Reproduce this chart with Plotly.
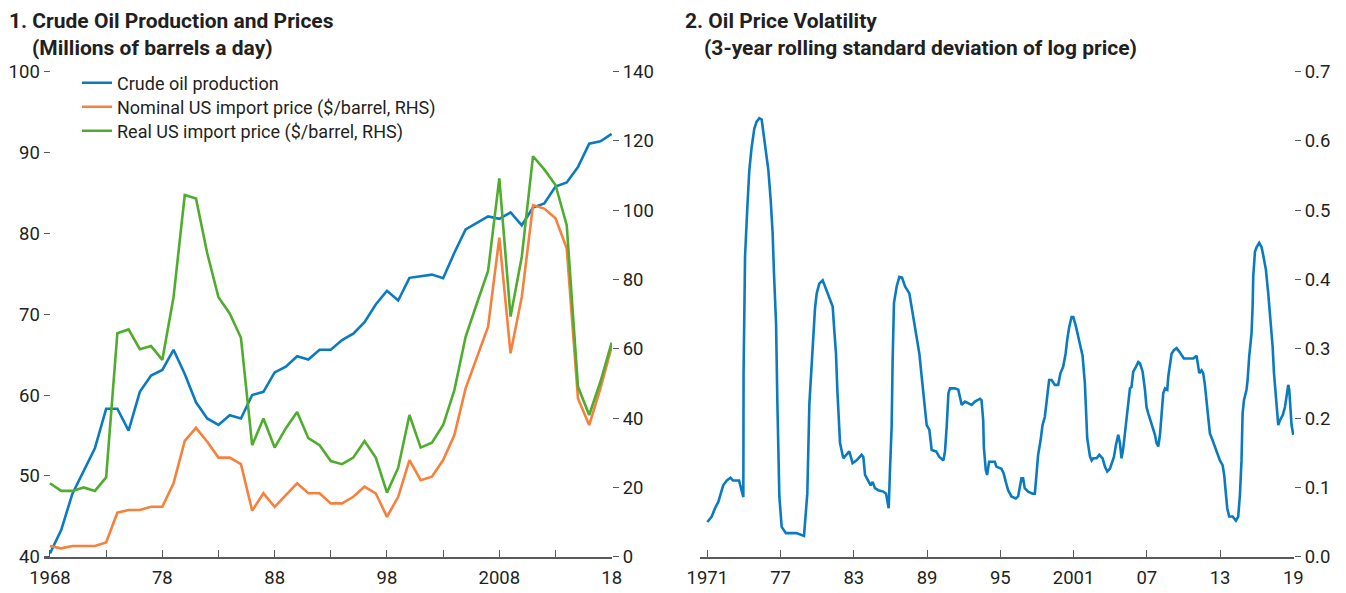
import plotly.graph_objects as go

# ---------------- Data ----------------
years = list(range(1968, 2019))
production = [40.4, 43.3, 47.8, 50.7, 53.4, 58.3, 58.3, 55.6, 60.4, 62.4,
              63.1, 65.6, 62.6, 59.1, 57.1, 56.3, 57.5, 57.1, 60.0, 60.4,
              62.8, 63.5, 64.8, 64.4, 65.6, 65.6, 66.8, 67.6, 69.0, 71.2,
              72.9, 71.7, 74.5, 74.7, 74.9, 74.45, 77.6, 80.5, 81.3, 82.1,
              81.8, 82.6, 81.0, 83.2, 83.7, 85.8, 86.3, 88.2, 91.1, 91.4,
              92.3]
nominal_price = [3.1, 2.4, 3.1, 3.1, 3.1, 4.1, 12.7, 13.5, 13.5, 14.4,
                 14.4, 21.2, 33.4, 37.2, 33.2, 28.6, 28.6, 26.7, 13.3, 18.3,
                 14.4, 17.8, 21.2, 18.3, 18.3, 15.4, 15.4, 17.3, 20.2, 18.3,
                 11.5, 17.3, 27.9, 22.1, 23.1, 27.9, 35.1, 48.6, 57.7, 66.4,
                 92.1, 58.7, 75.0, 101.5, 100.5, 97.7, 89.0, 45.7, 38.0, 48.6,
                 60.6]
real_price = [21.2, 19.0, 19.0, 20.0, 19.0, 22.9, 64.5, 65.6, 59.9, 60.8,
              56.8, 74.9, 104.4, 103.4, 87.6, 74.9, 70.2, 63.2, 32.2, 39.9,
              31.5, 37.1, 41.8, 34.2, 32.2, 27.6, 26.7, 28.6, 33.4, 28.6,
              18.5, 25.7, 40.9, 31.5, 32.9, 38.0, 48.1, 63.5, 73.1, 82.5,
              109.2, 69.3, 86.6, 115.6, 111.8, 107.3, 95.7, 49.1, 40.9, 50.5,
              61.8]

left_tickvals = [1968, 1973, 1978, 1983, 1988, 1993, 1998, 2003, 2008, 2013, 2018]
left_ticktext = ["1968", "", "78", "", "88", "", "98", "", "2008", "", "18"]

vol_time = [1971.0, 1971.36, 1971.63, 1971.9, 1972.1, 1972.3, 1972.6, 1972.9, 1973.1, 1973.6,
            1973.8, 1973.95, 1973.97, 1974.09, 1974.28, 1974.44, 1974.63, 1974.85, 1975.04, 1975.26,
            1975.45, 1975.59, 1975.81, 1976.0, 1976.19, 1976.35, 1976.46, 1976.63, 1976.74, 1976.9,
            1977.09, 1977.44, 1977.83, 1978.3, 1978.92, 1979.08, 1979.19, 1979.36, 1979.5, 1979.68,
            1979.82, 1979.96, 1980.17, 1980.45, 1980.72, 1981.05, 1981.27, 1981.4, 1981.54, 1981.65,
            1981.87, 1982.14, 1982.63, 1982.9, 1983.23, 1983.64, 1983.78, 1983.92, 1984.19, 1984.38,
            1984.54, 1984.73, 1985.01, 1985.42, 1985.64, 1985.86, 1985.96, 1986.1, 1986.18, 1986.29,
            1986.51, 1986.73, 1986.95, 1987.2, 1987.55, 1987.73, 1987.93, 1988.15, 1988.37, 1988.56,
            1988.7, 1988.83, 1988.97, 1989.19, 1989.38, 1989.74, 1990.01, 1990.34, 1990.47, 1990.61,
            1990.75, 1990.88, 1991.29, 1991.56, 1991.84, 1992.1, 1992.38, 1992.65, 1992.92, 1993.11,
            1993.33, 1993.46, 1993.6, 1993.65, 1993.81, 1993.92, 1994.08, 1994.55, 1994.68, 1995.09,
            1995.28, 1995.45, 1995.64, 1995.91, 1996.27, 1996.46, 1996.59, 1996.73, 1996.87, 1997.0,
            1997.28, 1997.64, 1997.83, 1997.96, 1998.1, 1998.3, 1998.46, 1998.65, 1998.79, 1999.0,
            1999.2, 1999.47, 1999.74, 1999.93, 2000.15, 2000.35, 2000.48, 2000.65, 2000.84, 2000.98,
            2001.2, 2001.39, 2001.6, 2001.74, 2001.93, 2002.01, 2002.12, 2002.34, 2002.48, 2002.62,
            2002.89, 2003.11, 2003.38, 2003.57, 2003.76, 2003.98, 2004.12, 2004.31, 2004.47, 2004.66,
            2004.8, 2004.93, 2005.07, 2005.21, 2005.34, 2005.48, 2005.62, 2005.75, 2005.89, 2006.11,
            2006.3, 2006.44, 2006.66, 2006.85, 2006.98, 2007.12, 2007.31, 2007.48, 2007.67, 2007.8,
            2007.94, 2008.08, 2008.21, 2008.35, 2008.49, 2008.68, 2008.76, 2008.9, 2009.03, 2009.22,
            2009.44, 2009.66, 2009.85, 2010.04, 2010.4, 2010.81, 2011.08, 2011.21, 2011.3, 2011.49,
            2011.62, 2011.76, 2011.9, 2012.03, 2012.17, 2012.39, 2012.58, 2012.77, 2012.99, 2013.21,
            2013.34, 2013.48, 2013.59, 2013.75, 2014.03, 2014.3, 2014.49, 2014.63, 2014.76, 2014.85,
            2014.96, 2015.17, 2015.26, 2015.39, 2015.5, 2015.58, 2015.67, 2015.72, 2015.86, 2016.0,
            2016.21, 2016.4, 2016.54, 2016.76, 2016.95, 2017.14, 2017.31, 2017.42, 2017.58, 2017.77,
            2017.91, 2018.13, 2018.32, 2018.45, 2018.59, 2018.67, 2018.78, 2018.86, 2019.0]
vol_value = [0.050, 0.058, 0.070, 0.079, 0.091, 0.103, 0.110, 0.114, 0.110, 0.110,
             0.096, 0.086, 0.265, 0.433, 0.505, 0.558, 0.591, 0.618, 0.628, 0.633,
             0.631, 0.613, 0.589, 0.558, 0.515, 0.467, 0.409, 0.337, 0.221, 0.087,
             0.043, 0.034, 0.034, 0.034, 0.030, 0.067, 0.091, 0.221, 0.267, 0.315,
             0.358, 0.380, 0.394, 0.399, 0.387, 0.373, 0.361, 0.327, 0.293, 0.241,
             0.164, 0.142, 0.152, 0.135, 0.139, 0.147, 0.144, 0.118, 0.108, 0.103,
             0.108, 0.099, 0.096, 0.094, 0.091, 0.070, 0.123, 0.188, 0.284, 0.366,
             0.390, 0.404, 0.403, 0.390, 0.380, 0.361, 0.337, 0.313, 0.293, 0.260,
             0.236, 0.207, 0.190, 0.183, 0.154, 0.152, 0.144, 0.139, 0.152, 0.188,
             0.236, 0.243, 0.243, 0.241, 0.219, 0.224, 0.221, 0.219, 0.224, 0.226,
             0.228, 0.226, 0.197, 0.159, 0.125, 0.118, 0.137, 0.137, 0.130, 0.127,
             0.120, 0.108, 0.096, 0.087, 0.084, 0.087, 0.099, 0.113, 0.113, 0.099,
             0.094, 0.091, 0.091, 0.123, 0.147, 0.168, 0.190, 0.202, 0.226, 0.255,
             0.255, 0.248, 0.248, 0.265, 0.274, 0.293, 0.313, 0.332, 0.346, 0.346,
             0.332, 0.317, 0.305, 0.290, 0.250, 0.204, 0.171, 0.145, 0.139, 0.142,
             0.142, 0.147, 0.142, 0.130, 0.123, 0.127, 0.135, 0.144, 0.161, 0.176,
             0.164, 0.142, 0.156, 0.178, 0.195, 0.221, 0.243, 0.245, 0.267, 0.274,
             0.281, 0.279, 0.267, 0.241, 0.216, 0.207, 0.197, 0.185, 0.176, 0.164,
             0.159, 0.176, 0.207, 0.236, 0.243, 0.241, 0.260, 0.274, 0.293, 0.298,
             0.301, 0.296, 0.291, 0.286, 0.286, 0.286, 0.290, 0.277, 0.265, 0.269,
             0.265, 0.248, 0.226, 0.202, 0.178, 0.168, 0.159, 0.149, 0.139, 0.132,
             0.118, 0.091, 0.070, 0.058, 0.058, 0.052, 0.058, 0.089, 0.139, 0.207,
             0.226, 0.241, 0.255, 0.289, 0.308, 0.322, 0.361, 0.404, 0.440, 0.447,
             0.453, 0.447, 0.435, 0.414, 0.380, 0.342, 0.303, 0.265, 0.226, 0.190,
             0.197, 0.204, 0.216, 0.231, 0.248, 0.241, 0.216, 0.190, 0.176]

right_tickvals = [1971, 1977, 1983, 1989, 1995, 2001, 2007, 2013, 2019]
right_ticktext = ["1971", "77", "83", "89", "95", "2001", "07", "13", "19"]

# ---------------- Styling ----------------
W, H = 1346, 593
OFF = 8  # page margin of the html body
FONT = "Roboto, Liberation Sans, sans-serif"
TXT = "#231f20"
AX = "#58595b"
BLUE = "#0b7bc1"
ORANGE = "#f7803c"
GREEN = "#4fad2e"


def px(x):
    return (x - OFF) / W


def py(y):
    return 1 - (y - OFF) / H


ydom = [py(556.7), py(71.7)]

fig = go.Figure()
fig.add_trace(go.Scatter(x=years, y=production, mode="lines", name="Crude oil production",
                         line=dict(color=BLUE, width=2.6), xaxis="x", yaxis="y",
                         legend="legend"))
fig.add_trace(go.Scatter(x=years, y=nominal_price, mode="lines",
                         name="Nominal US import price ($/barrel, RHS)",
                         line=dict(color=ORANGE, width=2.6), xaxis="x", yaxis="y2",
                         legend="legend2"))
fig.add_trace(go.Scatter(x=years, y=real_price, mode="lines",
                         name="Real US import price ($/barrel, RHS)",
                         line=dict(color=GREEN, width=2.6), xaxis="x", yaxis="y2",
                         legend="legend3"))
fig.add_trace(go.Scatter(x=vol_time, y=vol_value, mode="lines", showlegend=False,
                         line=dict(color=BLUE, width=2.6), xaxis="x2", yaxis="y3"))

tickfont = dict(family=FONT, size=18.5, color=TXT)
common_x = dict(ticks="inside", ticklen=7, tickwidth=1.3, tickcolor=AX, showline=True,
                linecolor=AX, linewidth=1.5, showgrid=False, zeroline=False,
                tickfont=tickfont, fixedrange=True, automargin=False, ticklabelstandoff=3)
common_y = dict(ticks="outside", ticklen=6, tickwidth=1.3, tickcolor=AX, showline=False,
                showgrid=False, zeroline=False, tickfont=tickfont, fixedrange=True,
                automargin=False)

legend_style = dict(xanchor="left", yanchor="middle", bgcolor="rgba(0,0,0,0)",
                    font=dict(family=FONT, size=18, color=TXT), itemwidth=30)

fig.update_layout(
    template="none",
    width=W, height=H,
    margin=dict(l=0, r=0, t=0, b=0, pad=0, autoexpand=False),
    paper_bgcolor="white", plot_bgcolor="white",
    font=dict(family=FONT, color=TXT),
    xaxis=dict(domain=[px(44), px(612)], range=[1967.47, 2018.03], anchor="y",
               tickmode="array", tickvals=left_tickvals, ticktext=left_ticktext, **common_x),
    yaxis=dict(domain=ydom, range=[40, 100], tickmode="array",
               tickvals=[40, 50, 60, 70, 80, 90, 100], anchor="free", position=px(49.5),
               **common_y),
    yaxis2=dict(range=[0, 140], overlaying="y", side="right", anchor="x", tickmode="array",
                tickvals=[0, 20, 40, 60, 80, 100, 120, 140], **common_y),
    xaxis2=dict(domain=[px(700), px(1294)], range=[1970.40, 2019.06], anchor="y3",
                tickmode="array", tickvals=right_tickvals, ticktext=right_ticktext, **common_x),
    yaxis3=dict(domain=ydom, range=[0, 0.7], side="right", anchor="x2", tickmode="array",
                tickvals=[0, 0.1, 0.2, 0.3, 0.4, 0.5, 0.6, 0.7], tickformat=".1f", **common_y),
    yaxis4=dict(range=[0, 0.7], overlaying="y3", side="left", anchor="free",
                position=px(707.3), tickmode="array",
                tickvals=[0.1, 0.2, 0.3, 0.4, 0.5, 0.6, 0.7], showticklabels=False,
                **common_y),
    legend=dict(x=px(77), y=py(83), **legend_style),
    legend2=dict(x=px(77), y=py(107), **legend_style),
    legend3=dict(x=px(77), y=py(131), **legend_style),
    showlegend=True,
)

title_font = dict(family=FONT, size=21, color=TXT)
annos = [
    ("<b>1. Crude Oil Production and Prices</b>", 8, 21),
    ("<b>(Millions of barrels a day)</b>", 31, 48),
    ("<b>2. Oil Price Volatility</b>", 684, 21),
    ("<b>(3-year rolling standard deviation of log price)</b>", 703, 48),
]
for text, x, y in annos:
    fig.add_annotation(text=text, x=px(x), y=py(y), xref="paper", yref="paper",
                       xanchor="left", yanchor="middle", showarrow=False, font=title_font,
                       borderpad=0)

fig.write_html("out.html")
